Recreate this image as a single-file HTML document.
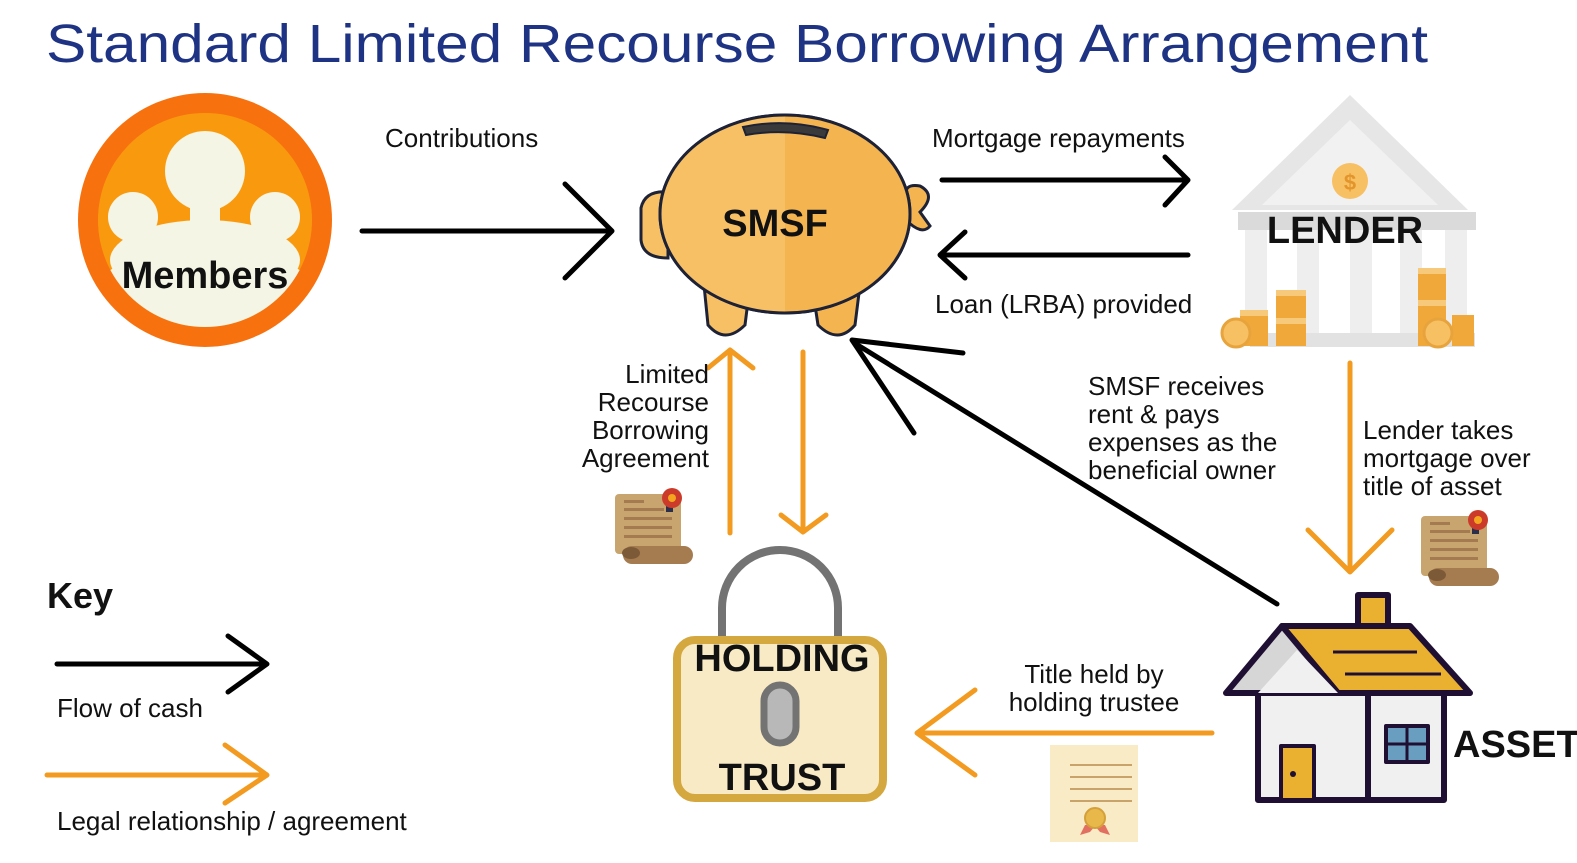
<!DOCTYPE html>
<html><head><meta charset="utf-8"><style>
html,body{margin:0;padding:0;background:#fff;}
svg{display:block;}
text{font-family:"Liberation Sans",sans-serif;}
</style></head><body>
<svg width="1577" height="863" viewBox="0 0 1577 863" xmlns="http://www.w3.org/2000/svg">
<defs>
<clipPath id="mc"><circle cx="205" cy="220" r="107"/></clipPath>
<g id="scroll">
<rect x="0" y="4" width="66" height="60" rx="4" fill="#C8A56E"/>
<rect x="9" y="10" width="20" height="3" fill="#A47B50"/>
<rect x="9" y="18" width="40" height="3" fill="#A47B50"/>
<rect x="9" y="27" width="48" height="3" fill="#A47B50"/>
<rect x="9" y="36" width="48" height="3" fill="#A47B50"/>
<rect x="9" y="45" width="48" height="3" fill="#A47B50"/>
<rect x="8" y="56" width="70" height="18" rx="9" fill="#A57B50"/>
<ellipse cx="16" cy="63" rx="9" ry="6" fill="#7D5A37"/>
<rect x="51" y="8" width="7" height="14" fill="#2C2F4A"/>
<circle cx="57" cy="8" r="10" fill="#CC3B2A"/><circle cx="57" cy="8" r="4" fill="#F3A51F"/>
</g>
</defs>
<text x="46" y="62" font-size="54" fill="#1E3383" textLength="1382" lengthAdjust="spacingAndGlyphs">Standard Limited Recourse Borrowing Arrangement</text>

<!-- Members -->
<circle cx="205" cy="220" r="127" fill="#F7720F"/>
<circle cx="205" cy="220" r="107" fill="#F99A0E"/>
<g clip-path="url(#mc)" fill="#F5F5E6">
<circle cx="205" cy="171" r="40"/><circle cx="133" cy="217" r="25"/><circle cx="275" cy="217" r="25"/>
<rect x="190" y="195" width="30" height="50"/><rect x="125" y="235" width="16" height="20"/><rect x="267" y="235" width="16" height="20"/>
<ellipse cx="205" cy="345" rx="135" ry="105"/>
<ellipse cx="205" cy="260" rx="95" ry="40"/>
</g>
<text x="205" y="288" font-size="38" font-weight="bold" text-anchor="middle" fill="#111">Members</text>

<!-- Piggy -->
<g stroke="#1E2236" stroke-width="3">
<path d="M704 285 L708 325 Q725 345 745 325 L750 285 Z" fill="#F8C064"/>
<path d="M812 285 L818 325 Q838 345 855 325 L860 285 Z" fill="#F4B44F"/>
<path d="M906 198 Q903 183 920 186 Q937 195 920 212 L930 226 Q922 236 906 220 Z" fill="#F4B44F"/>
<path d="M668 192 Q645 190 641 208 L641 240 Q643 258 668 258 Z" fill="#F8C064"/>
<ellipse cx="785" cy="214" rx="125" ry="99" fill="#F6BA58"/>
</g>
<path d="M785 116 A124 98 0 0 1 785 312 Z" fill="#F4B44F"/>
<path d="M785 116 A124 98 0 0 0 785 312 Z" fill="#F8C064"/>
<ellipse cx="785" cy="214" rx="125" ry="99" fill="none" stroke="#1E2236" stroke-width="3"/>
<path d="M743 127 Q785 118 828 130 L825 138 Q785 128 746 135 Z" fill="#3a3a3a" stroke="#1E2236" stroke-width="2"/>
<text x="775" y="236" font-size="38" font-weight="bold" text-anchor="middle" fill="#111">SMSF</text>

<!-- Lender -->
<polygon points="1232,210 1350,95 1468,210" fill="#E6E6E6"/>
<polygon points="1262,205 1350,120 1438,205" fill="#F1F1F1"/>
<rect x="1238" y="212" width="238" height="18" fill="#DADADA"/>
<g fill="#EEEEEE"><rect x="1245" y="230" width="22" height="105"/><rect x="1297" y="230" width="22" height="105"/><rect x="1350" y="230" width="22" height="105"/><rect x="1400" y="230" width="22" height="105"/><rect x="1445" y="230" width="22" height="105"/></g>
<rect x="1250" y="333" width="225" height="14" fill="#E2E2E2"/>
<circle cx="1350" cy="181" r="18" fill="#F7C063"/>
<text x="1350" y="190" font-size="22" font-weight="bold" text-anchor="middle" fill="#E3952B">$</text>
<text x="1345" y="243" font-size="38" font-weight="bold" text-anchor="middle" fill="#111">LENDER</text>
<g fill="#F0A83A">
<rect x="1240" y="310" width="28" height="36"/><rect x="1276" y="290" width="30" height="56"/>
<rect x="1418" y="268" width="28" height="78"/><rect x="1452" y="315" width="22" height="31"/>
</g>
<g fill="#F7C97A"><rect x="1240" y="310" width="28" height="6"/><rect x="1276" y="290" width="30" height="6"/><rect x="1418" y="268" width="28" height="6"/><rect x="1418" y="300" width="28" height="6"/><rect x="1276" y="318" width="30" height="6"/></g>
<circle cx="1236" cy="333" r="14" fill="#F7C063" stroke="#E8A43C" stroke-width="3"/>
<circle cx="1438" cy="333" r="14" fill="#F7C063" stroke="#E8A43C" stroke-width="3"/>

<!-- Arrows black -->
<g stroke="#000" stroke-width="5" fill="none" stroke-linecap="round" stroke-linejoin="round">
<line x1="362" y1="231" x2="610" y2="231"/><polyline points="565,184 612,231 565,278"/>
<line x1="942" y1="180" x2="1186" y2="180"/><polyline points="1165,157 1188,180 1165,205"/>
<line x1="942" y1="255" x2="1188" y2="255"/><polyline points="965,232 940,255 965,278"/>
<line x1="1277" y1="604" x2="856" y2="344"/><polyline points="963,353 852,340 914,433"/>
<line x1="57" y1="664" x2="265" y2="664"/><polyline points="228,636 267,664 228,692"/>
</g>
<!-- Arrows orange -->
<g stroke="#F29B20" stroke-width="5" fill="none" stroke-linecap="round" stroke-linejoin="round">
<line x1="730" y1="533" x2="730" y2="352"/><polyline points="708,368 730,350 753,368"/>
<line x1="803" y1="352" x2="803" y2="530"/><polyline points="781,515 803,532 826,515"/>
<line x1="1350" y1="363" x2="1350" y2="570"/><polyline points="1308,530 1350,572 1392,530"/>
<line x1="1212" y1="733" x2="919" y2="733"/><polyline points="975,690 917,733 975,775"/>
<line x1="47" y1="775" x2="265" y2="775"/><polyline points="225,745 267,775 225,803"/>
</g>

<!-- scrolls -->
<use href="#scroll" x="615" y="490"/>
<use href="#scroll" x="1421" y="512"/>
<!-- certificate -->
<rect x="1050" y="745" width="88" height="97" fill="#F8EBC6"/>
<g stroke="#C8A46A" stroke-width="2"><line x1="1070" y1="765" x2="1132" y2="765"/><line x1="1070" y1="777" x2="1132" y2="777"/><line x1="1070" y1="789" x2="1132" y2="789"/><line x1="1070" y1="801" x2="1132" y2="801"/></g>
<polygon points="1085,825 1080,835 1090,832 1095,826 1100,832 1110,835 1105,825" fill="#E27060"/>
<circle cx="1095" cy="818" r="10" fill="#E8B84A" stroke="#D4A03A" stroke-width="2"/>

<!-- Lock -->
<path d="M722 640 L722 608 A58 58 0 0 1 838 608 L838 640" fill="none" stroke="#737373" stroke-width="8"/>
<rect x="677" y="640" width="206" height="158" rx="18" fill="#F8EAC4" stroke="#D4A73F" stroke-width="8"/>
<rect x="764" y="685" width="32" height="58" rx="16" fill="#B8B8B8" stroke="#737373" stroke-width="7"/>
<text x="782" y="671" font-size="38" font-weight="bold" text-anchor="middle" fill="#111">HOLDING</text>
<text x="782" y="790" font-size="38" font-weight="bold" text-anchor="middle" fill="#111">TRUST</text>

<!-- House -->
<g stroke="#1F0F33" stroke-width="6" stroke-linejoin="round">
<rect x="1358" y="595" width="30" height="55" fill="#EAB030"/>
<polygon points="1282,626 1410,626 1470,693 1338,693" fill="#EAB030"/>
<rect x="1258" y="693" width="186" height="107" fill="#F0F0F0"/>
<polygon points="1226,693 1282,626 1338,693" fill="#D6D6D6"/>
<polygon points="1258,693 1297,650 1338,693" fill="#F0F0F0" stroke="none"/>
<line x1="1368" y1="693" x2="1368" y2="800"/>
<rect x="1281" y="746" width="33" height="54" fill="#EAB030" stroke-width="4"/>
<rect x="1386" y="726" width="42" height="36" fill="#6A9EC0" stroke-width="4"/>
<line x1="1407" y1="726" x2="1407" y2="762" stroke-width="3"/><line x1="1386" y1="744" x2="1428" y2="744" stroke-width="3"/>
<line x1="1333" y1="652" x2="1417" y2="652" stroke-width="3"/><line x1="1345" y1="674" x2="1441" y2="674" stroke-width="3"/>
</g>
<circle cx="1293" cy="774" r="3" fill="#1F0F33"/>
<text x="1453" y="757" font-size="38" font-weight="bold" fill="#111">ASSET</text>

<!-- labels -->
<g font-size="26" fill="#111">
<text x="385" y="147">Contributions</text>
<text x="932" y="147">Mortgage repayments</text>
<text x="935" y="313">Loan (LRBA) provided</text>
<g text-anchor="end"><text x="709" y="383">Limited</text><text x="709" y="411">Recourse</text><text x="709" y="439">Borrowing</text><text x="709" y="467">Agreement</text></g>
<text x="1088" y="395">SMSF receives</text><text x="1088" y="423">rent &amp; pays</text><text x="1088" y="451">expenses as the</text><text x="1088" y="479">beneficial owner</text>
<text x="1363" y="439">Lender takes</text><text x="1363" y="467">mortgage over</text><text x="1363" y="495">title of asset</text>
<g text-anchor="middle"><text x="1094" y="683">Title held by</text><text x="1094" y="711">holding trustee</text></g>
<text x="57" y="717">Flow of cash</text>
<text x="57" y="830">Legal relationship / agreement</text>
</g>
<text x="47" y="608" font-size="36" font-weight="bold" fill="#111">Key</text>
</svg>
</body></html>
